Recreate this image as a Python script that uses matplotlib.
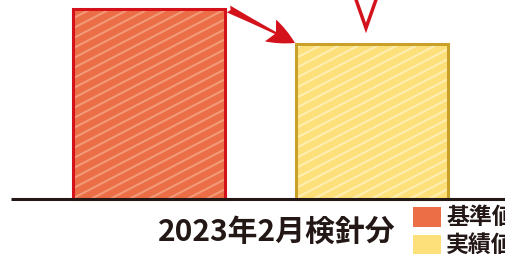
import numpy as np
import matplotlib.pyplot as plt
from matplotlib.patches import Rectangle

plt.rcParams['font.family'] = ['Noto Sans CJK JP', 'DejaVu Sans']

# data
categories = ["基準値", "実績値"]
values = [190, 155]
face_colors = ["#EC6E47", "#FDE07A"]
hatch_colors = ["#F29A78", "#FFEEB2"]
edge_colors = ["#D3121C", "#C9A128"]
xlabel = "2023年2月検針分"

fig = plt.figure(figsize=(5.06, 2.54), dpi=100)
ax = fig.add_axes([0, 0, 1, 1])
ax.set_xlim(0, 506)
ax.set_ylim(-55, 199)
ax.axis("off")

xs = [149.5, 372]
width = 152
slope = 0.52
step = 10
for x, v, fc, hc, ec in zip(xs, values, face_colors, hatch_colors, edge_colors):
    bars = ax.bar(x, v, width=width, color=fc, linewidth=0, zorder=1)
    patch = bars[0]
    # shallow diagonal hatch, clipped to the bar
    x0, x1 = x - width / 2, x + width / 2
    for c in np.arange(-slope * width - step, v + step, step):
        ln, = ax.plot([x0, x1], [c, c + slope * width], color=hc, lw=1.5, zorder=1.5)
        ln.set_clip_path(patch)
    ax.bar(x, v, width=width, fill=False, edgecolor=ec, linewidth=2.2, zorder=3)

ax.plot([11, 506], [0, 0], color="#231815", lw=2.2, solid_capstyle="butt", zorder=4)

# arrow between bars
ax.annotate("", xy=(xs[1] - width / 2 - 1, values[1] + 1),
            xytext=(xs[0] + width / 2 + 3, values[0]),
            arrowprops=dict(arrowstyle="fancy,head_length=0.9,head_width=0.8,tail_width=0.25",
                            color="#D3121C", lw=0, mutation_scale=22,
                            shrinkA=0, shrinkB=0))

# cut-off mark at top
ax.plot([354, 366, 378], [205, 171, 205], color="#D3121C", lw=2.5,
        solid_joinstyle="miter")

ax.text(277, -33, xlabel, ha="center", va="center", fontsize=21.5,
        fontweight="bold", color="#231815")

# legend
for i, (lab, fc) in enumerate(zip(categories, face_colors)):
    y0 = -28 - i * 28
    ax.add_patch(Rectangle((413, y0), 28, 20, color=fc, lw=0))
    ax.text(446, y0 + 10, lab, ha="left", va="center", fontsize=16.5,
            fontweight="bold", color="#231815")

fig.savefig("out.png", dpi=100)
